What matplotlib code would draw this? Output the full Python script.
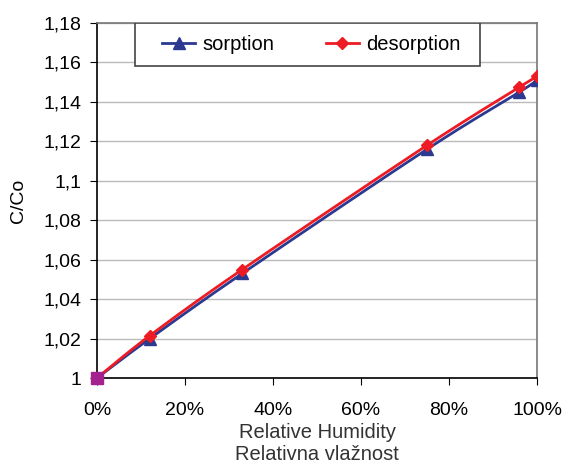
import numpy as np
import matplotlib
matplotlib.use('Agg')
import matplotlib.pyplot as plt
from matplotlib.ticker import FuncFormatter
from matplotlib.patches import Rectangle

plt.rcParams['font.family'] = ['Liberation Sans', 'DejaVu Sans']

# Podaci ocitani s grafa
rh = [0, 12, 33, 75, 96, 100]
sorption = [1.000, 1.020, 1.053, 1.116, 1.145, 1.151]
desorption = [1.000, 1.0215, 1.055, 1.118, 1.1475, 1.153]
start_x = [0]
start_y = [1.000]

y_ticks = [1, 1.02, 1.04, 1.06, 1.08, 1.1, 1.12, 1.14, 1.16, 1.18]
x_ticks = [0, 20, 40, 60, 80, 100]


# Glatka krivulja kao u Excelu (Bezier kroz tocke)
def smooth(xs, ys, n=30):
    p = np.column_stack([xs, ys]).astype(float)
    out = [p[0]]
    for i in range(len(p) - 1):
        p0 = p[i - 1] if i > 0 else p[i]
        p1 = p[i]
        p2 = p[i + 1]
        p3 = p[i + 2] if i + 2 < len(p) else p[i + 1]
        c1 = p1 + (p2 - p0) / 6.0
        c2 = p2 - (p3 - p1) / 6.0
        t = np.linspace(0, 1, n)[1:, None]
        seg = ((1 - t) ** 3) * p1 + 3 * ((1 - t) ** 2) * t * c1 + 3 * (1 - t) * t ** 2 * c2 + t ** 3 * p2
        out.extend(seg)
    out = np.array(out)
    return out[:, 0], out[:, 1]


blue = '#2B3990'
red = '#ED1C24'

fig = plt.figure(figsize=(5.66, 4.66), dpi=100)
ax = fig.add_axes([0.1714, 0.1888, 0.7774, 0.7618])

sx, sy = smooth(rh, sorption)
dx, dy = smooth(rh, desorption)
ax.plot(sx, sy, color=blue, lw=2, zorder=3)
ax.plot(rh, sorption, ls='none', marker='^', color=blue, ms=8, zorder=4)
ax.plot(dx, dy, color=red, lw=2, zorder=5)
ax.plot(rh, desorption, ls='none', marker='D', color=red, ms=6, zorder=6)
ax.plot(start_x, start_y, ls='none', marker='s', color='#A3228F', ms=8, zorder=7, clip_on=False)

# linije za legendu
h1, = ax.plot([], [], color=blue, lw=2, marker='^', ms=8, label='sorption')
h2, = ax.plot([], [], color=red, lw=2, marker='D', ms=6, label='desorption')

ax.set_xlim(0, 100)
ax.set_ylim(1, 1.18)
ax.set_xticks(x_ticks)
ax.set_yticks(y_ticks)
ax.xaxis.set_major_formatter(FuncFormatter(lambda v, p: f"{v:g}%"))
ax.yaxis.set_major_formatter(FuncFormatter(lambda v, p: f"{round(v, 2):g}".replace('.', ',')))
ax.tick_params(axis='both', direction='out', length=5, labelsize=14, color='black')
ax.tick_params(axis='x', pad=12)
ax.tick_params(axis='y', pad=6)
ax.grid(axis='y', color='#BBBBBB', lw=1)
ax.set_axisbelow(True)

ax.spines['left'].set_color('black')
ax.spines['bottom'].set_color('black')
ax.spines['top'].set_color('#777777')
ax.spines['right'].set_color('#777777')
for s in ax.spines.values():
    s.set_linewidth(1.2)

ax.set_ylabel('C/Co', fontsize=14, labelpad=12)
ax.set_xlabel('Relative Humidity\nRelativna vlažnost', fontsize=14.5, color='#333333',
              labelpad=3, linespacing=1.22)

# okvir legende
frame = Rectangle((0.0864, 0.879), 0.784, 0.121, transform=ax.transAxes,
                  facecolor='white', edgecolor='#444444', lw=1.2, zorder=9)
ax.add_patch(frame)
leg = ax.legend(handles=[h1, h2], loc='center left', bbox_to_anchor=(0.148, 0.9395),
                ncol=2, fontsize=14.5, frameon=False, handlelength=1.65,
                handletextpad=0.35, borderpad=0, borderaxespad=0, columnspacing=2.55)
leg.set_zorder(10)

fig.savefig('out.png', dpi=100)
